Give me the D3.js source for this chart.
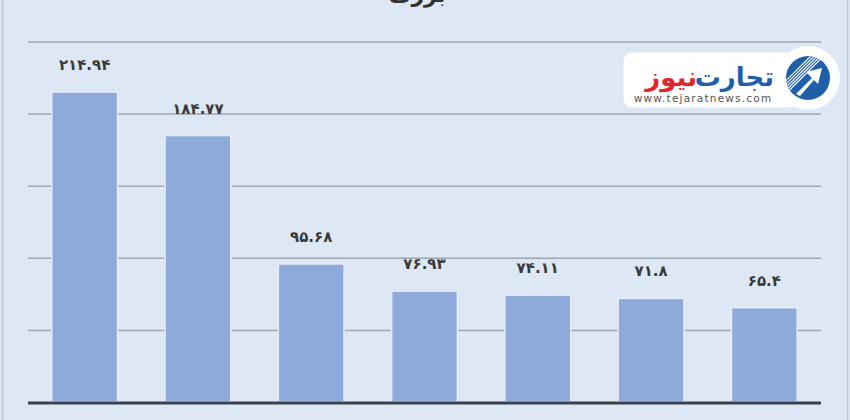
<!DOCTYPE html>
<html><head><meta charset="utf-8">
<script src="https://cdn.jsdelivr.net/npm/d3@7"></script>
<style>html,body{margin:0;padding:0;background:#dde8f4;}svg{display:block;}</style>
</head><body>
<svg id="c" width="850" height="420"></svg>
<script>
const categories = ["c1","c2","c3","c4","c5","c6","c7"];
const values = [214.94, 184.77, 95.68, 76.93, 74.11, 71.8, 65.4];
const labels = ["214.94","184.77","95.68","76.93","74.11","71.8","65.4"];
const gridTicks = [50, 100, 150, 200, 250];
const titleText = "بزرگ";

const fa = s => s.replace(/[0-9]/g, d => "۰۱۲۳۴۵۶۷۸۹"[+d]);
const svg = d3.select("#c");
const W = 850, H = 420;
svg.append("rect").attr("width", W).attr("height", H).attr("fill", "#dee8f4");

const x = d3.scaleBand().domain(categories).range([28, 821]).paddingInner(0.42).paddingOuter(0.21);
const y = d3.scaleLinear().domain([0, 250]).range([402, 41.5]);

// frame lines
svg.append("line").attr("x1", 2.5).attr("x2", 2.5).attr("y1", 0).attr("y2", H).attr("stroke", "#bcc3cb").attr("stroke-width", 1.5);
svg.append("line").attr("x1", 847.5).attr("x2", 847.5).attr("y1", 0).attr("y2", H).attr("stroke", "#c4cad1").attr("stroke-width", 1.5);

// grid
const yAxis = d3.axisLeft(y).tickValues(gridTicks).tickSize(-(821 - 28)).tickFormat("");
const g = svg.append("g").attr("transform", "translate(28,0)").call(yAxis);
g.select(".domain").remove();
g.selectAll(".tick line").attr("stroke", "#9ea6b0").attr("stroke-width", 1.5);

// title (cut off at top, as in the reference)
svg.append("text").attr("x", 446).attr("y", 2).attr("text-anchor", "end")
  .attr("font-family", "DejaVu Sans").attr("font-weight", "bold").attr("font-size", 22)
  .attr("fill", "#333").text(titleText);

// bars
svg.selectAll("rect.bar").data(values).join("rect").attr("class", "bar")
  .attr("x", (d, i) => x(categories[i])).attr("width", x.bandwidth())
  .attr("y", d => y(d)).attr("height", d => y(0) - y(d))
  .attr("fill", "#8eaadb").attr("stroke", "#e4ecf7").attr("stroke-width", 1.5);

// labels
svg.selectAll("text.lab").data(values).join("text").attr("class", "lab")
  .attr("x", (d, i) => x(categories[i]) + x.bandwidth() / 2)
  .attr("y", d => y(d) - 22)
  .attr("text-anchor", "middle")
  .attr("font-family", "DejaVu Sans").attr("font-weight", "bold").attr("font-size", 15)
  .attr("fill", "#3a3a3a")
  .text((d, i) => fa(labels[i]));

// baseline
svg.append("line").attr("x1", 28).attr("x2", 821).attr("y1", y(0) + 1).attr("y2", y(0) + 1)
  .attr("stroke", "#3a424c").attr("stroke-width", 3);

// logo
const lg = svg.append("g");
lg.append("rect").attr("x", 623).attr("y", 52).attr("width", 175).attr("height", 56).attr("rx", 9)
  .attr("fill", "#ffffff").attr("stroke", "#e3e6ea");
lg.append("circle").attr("cx", 808).attr("cy", 78).attr("r", 32).attr("fill", "#ffffff");
lg.append("circle").attr("cx", 808).attr("cy", 78).attr("r", 22).attr("fill", "#1f5ea8");
const clip = svg.append("clipPath").attr("id", "lc");
clip.append("circle").attr("cx", 808).attr("cy", 78).attr("r", 22);
const hatch = lg.append("g").attr("clip-path", "url(#lc)");
for (let k = -6; k <= -2; k++) {
  hatch.append("line").attr("x1", 786 + k * 3.2).attr("y1", 100).attr("x2", 830 + k * 3.2).attr("y2", 56)
    .attr("stroke", "#ffffff").attr("stroke-width", 1.1);
}
lg.append("path").attr("d", "M796,94 L812,78 L806,72 L822,68 L818,84 L814,80 L800,96 Z").attr("fill", "#ffffff");
lg.append("text").attr("x", 774).attr("y", 86).attr("text-anchor", "end")
  .attr("font-family", "DejaVu Sans").attr("font-weight", "bold").attr("font-size", 26)
  .attr("fill", "#1f5ea8").text("تجارت");
lg.append("text").attr("x", 697).attr("y", 86).attr("text-anchor", "end")
  .attr("font-family", "DejaVu Sans").attr("font-weight", "bold").attr("font-size", 26)
  .attr("fill", "#e2262b").text("نیوز");
lg.append("text").attr("x", 703).attr("y", 102).attr("text-anchor", "middle")
  .attr("font-family", "DejaVu Sans").attr("font-size", 10.5).attr("letter-spacing", 1.2)
  .attr("fill", "#555").text("www.tejaratnews.com");
</script>
</body></html>
